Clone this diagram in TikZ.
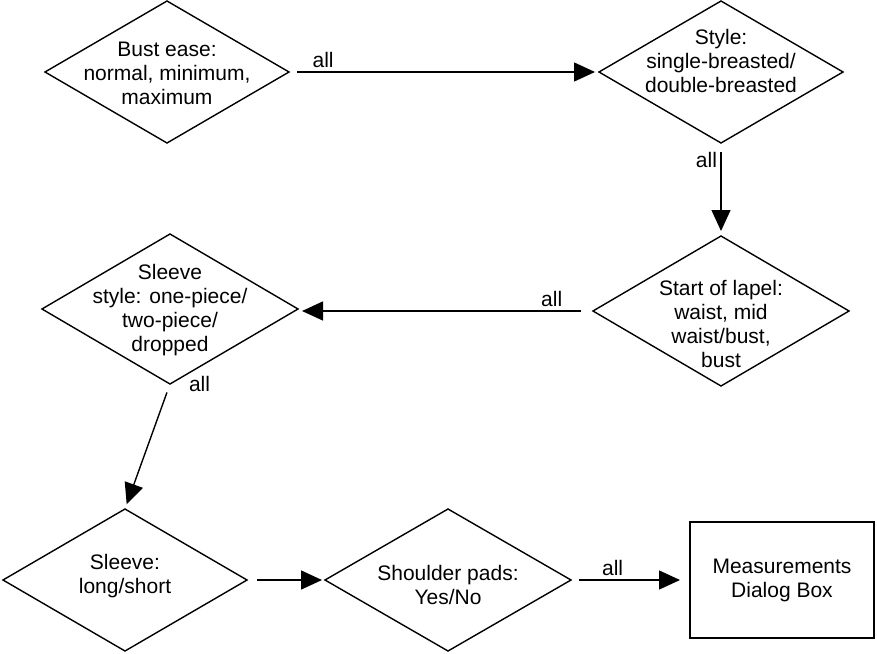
\documentclass[tikz,border=0pt]{standalone}
\usepackage{fontspec}
\setmainfont{Liberation Sans}
\usetikzlibrary{arrows.meta}
\usetikzlibrary{shapes.geometric}
\usetikzlibrary{positioning}
\tikzset{decision/.style={draw=black,line width=1.4pt,shape=diamond,inner sep=0pt,outer sep=0pt,minimum width=244pt,minimum height=142pt}}
\tikzset{wide/.style={minimum width=256pt,minimum height=150pt}}
\tikzset{caption/.style={align=center,inner sep=0pt}}
\tikzset{dialog/.style={draw=black,line width=1.4pt,align=center,inner sep=0pt,outer sep=0pt,minimum width=184pt,minimum height=116pt}}
\tikzset{arrow/.style={-{Triangle[length=21pt,width=19pt]},line width=1.4pt}}

\begin{document}
\begin{tikzpicture}[x=1pt,y=-1pt,font=\fontsize{21}{24}\selectfont]
    \useasboundingbox (0,0) rectangle (877,653);

    \node[decision] (bst) at (167,72) {};
    \node[decision] (sty) at (721,72) {};
    \node[decision,wide] (lap) at (721,311) {};
    \node[decision,wide] (slv) at (170,309) {};
    \node[decision] (sll) at (125,580) {};
    \node[decision,minimum width=246pt] (shp) at (448,580) {};
    \node[dialog] (mdb) at (782,580) {Measurements\\Dialog Box};

    \node[caption] (bstt) at (167,73) {Bust ease:\\normal, minimum,\\maximum};
    \node[caption] (styt) at (721,61) {Style:\\single-breasted/\\double-breasted};
    \node[caption] (lapt) at (721,324) {Start of lapel:\\waist, mid\\waist/bust,\\bust};
    \node[caption] (slvt) at (170,310) {Sleeve\\style: one-piece/\\two-piece/\\dropped};
    \node[caption] (sllt) at (125,576) {Sleeve:\\long/short};
    \node[caption] (shpt) at (448,585) {Shoulder pads:\\Yes/No};

    \draw[arrow,shorten <=8pt,shorten >=4pt] (bst.east) -- (sty.west)
        node[pos=0.11,above] {all};
    \draw[arrow,shorten <=9pt,shorten >=5pt] (sty.south) -- (lap.north)
        node[pos=0.18,left] {all};
    \draw[arrow,shorten <=12pt,shorten >=4pt] (lap.west) -- (lap.west -| slv.east)
        node[pos=0.14,above] {all};
    \draw[arrow,shorten <=9pt,shorten >=5pt] (slv.south) -- (sll.north)
        node[pos=0,right=15pt] {all};
    \draw[arrow,shorten <=10pt,shorten >=3pt] (sll.east) -- (shp.west);
    \draw[arrow,shorten <=8pt,shorten >=10pt] (shp.east) -- (mdb.west)
        node[pos=0.35,above] {all};
\end{tikzpicture}
\end{document}
